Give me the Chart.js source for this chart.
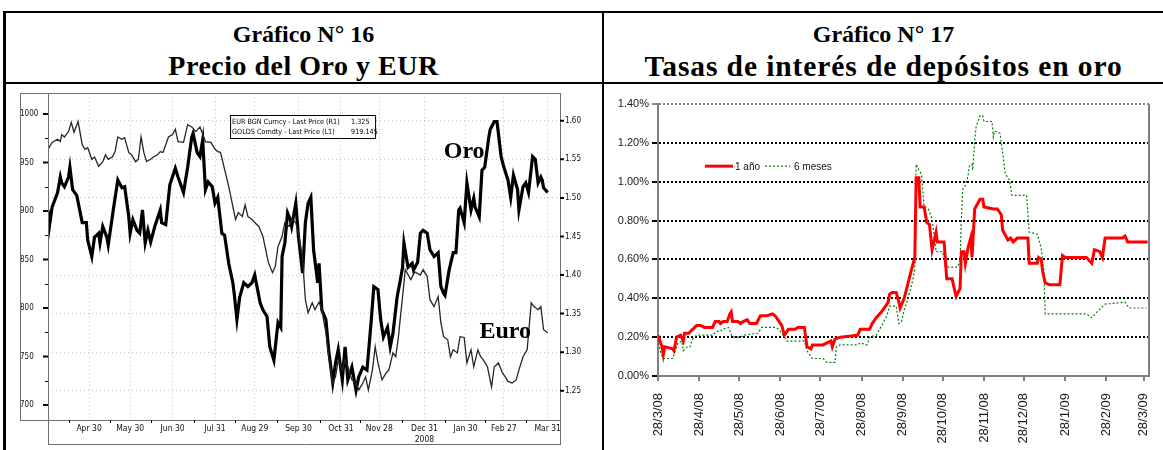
<!DOCTYPE html>
<html>
<head>
<meta charset="utf-8">
<script src="https://cdn.jsdelivr.net/npm/chart.js@4.4.0/dist/chart.umd.min.js"></script>
<style>
  body { margin: 0; background: #fff; width: 1163px; height: 450px; overflow: hidden; position: relative; }
  .ln { position: absolute; background: #000; }
  .title { position: absolute; text-align: center; font-family: "Liberation Serif", "Times New Roman", serif;
           font-weight: bold; color: #000; white-space: nowrap; }
  .t1 { top: 18px; font-size: 24px; line-height: 32px; }
  .t2 { top: 50px; font-size: 28px; line-height: 32px; }
  #box16 { position: absolute; left: 8px; top: 88px; width: 592px; height: 362px; }
  #box17 { position: absolute; left: 606px; top: 88px; width: 557px; height: 362px; }
</style>
</head>
<body>
<div class="ln" style="left:3px;top:11px;width:1160px;height:2px"></div>
<div class="ln" style="left:3px;top:11px;width:3px;height:439px"></div>
<div class="ln" style="left:602px;top:11px;width:2px;height:439px"></div>
<div class="ln" style="left:3px;top:82px;width:1160px;height:2px"></div>
<div class="title t1" style="left:4px;width:599px">Gráfico N° 16</div>
<div class="title t2" style="left:4px;width:599px;letter-spacing:0.5px">Precio del Oro y EUR</div>
<div class="title t1" style="left:604px;width:559px">Gráfico N° 17</div>
<div class="title t2" style="left:604px;width:559px;font-size:29.5px;letter-spacing:0.9px">Tasas de interés de depósitos en oro</div>
<div id="box16"><canvas id="c16"></canvas></div>
<div id="box17"><canvas id="c17"></canvas></div>

<script>
// ---- Gráfico 16: gold (left axis) and EUR (right axis), days after 31 Mar 2008
const goldDays = [0,1,3,7,9,10,12,15,16,18, 21,25,28,29,32,34,37,38,40,43, 44,48,51,54,56,59,60,62,65,67,
  69,71,73,75,78,82,83,86,89,93, 95,99,102,105,106,109,111,113,115,117, 120,122,124,127,129,132,135,136,138,140,
  143,146,149,151,155,157,160,162,165,168, 170,171,173,175,177,178,181,183,186,188, 190,192,194,197,198,200,203,205,208,210,
  212,215,217,219,222,225,227,230,233,236, 238,241,243,245,248,250,252,255,257,259, 260,263,266,267,270,272,274,277,279,282,
  285,287,289,290,293,296,298,300,301,304, 306,309,311,312,315,317,319,322,323,326, 328,331,333,336,338,340,343,344,347,349,
  351,354,356,358,360,361,362,365];
const goldPrice = [901,884,904,919,935,929,925,935,945,922, 916,888,888,870,853,873,877,867,884,873, 865,904,932,924,925,894,877,891,880,877,
  901,867,880,868,884,901,888,886,927,944, 935,919,945,976,980,960,956,973,922,930, 925,908,914,877,875,846,826,815,788,811,
  826,822,826,834,805,798,791,760,746,785, 780,853,867,898,891,884,908,873,836,888, 908,914,860,826,846,798,788,757,723,743,
  757,726,760,726,739,715,729,739,736,785, 822,819,788,770,780,760,774,811,826,842, 867,842,846,839,847,877,880,877,860,853,
  857,822,815,813,839,857,857,901,903,888, 929,901,913,904,894,942,945,976,984,992, 992,956,945,932,914,937,922,901,925,929,
  919,956,953,929,935,932,924,919];

const eurDays = [0,3,7,9,10,12,15,17,19,22, 25,27,29,32,34,37,40,42,44,47, 49,51,54,56,59,61,64,66,68,70,
  72,75,77,80,82,84,88,91,93,95, 99,102,105,108,111,115,119,122,124,126, 129,132,135,137,139,142,144,146,149,151,
  154,157,159,161,164,166,168,171,173,176, 178,181,183,186,188,190,193,195,198,200, 203,205,208,210,212,215,217,219,222,225,
  227,230,232,234,237,239,241,244,247,249, 252,254,256,257,259,261,265,268,272,274, 277,279,282,285,287,289,292,294,296,299,
  301,304,306,309,311,314,316,318,321,324, 326,329,332,334,336,339,342,344,347,350, 353,355,358,360,362,365];
const eurRate = [1.563,1.572,1.576,1.573,1.582,1.579,1.586,1.598,1.585,1.599, 1.569,1.563,1.565,1.550,1.553,1.541,1.547,1.556,1.550,1.553,
  1.560,1.579,1.576,1.578,1.559,1.556,1.547,1.550,1.579,1.559, 1.547,1.550,1.553,1.556,1.560,1.559,1.579,1.582,1.589,1.573,
  1.572,1.595,1.592,1.586,1.592,1.573,1.572,1.563,1.560,1.559, 1.537,1.515,1.489,1.472,1.481,1.476,1.491,1.476,1.472,1.468,
  1.463,1.450,1.433,1.416,1.403,1.411,1.437,1.450,1.468,1.463, 1.472,1.468,1.455,1.420,1.368,1.351,1.364,1.355,1.365,1.355,
  1.325,1.294,1.260,1.268,1.290,1.277,1.290,1.281,1.264,1.260, 1.251,1.260,1.268,1.251,1.277,1.307,1.286,1.264,1.273,1.277,
  1.299,1.294,1.320,1.338,1.372,1.407,1.394,1.404,1.400,1.407, 1.398,1.368,1.359,1.372,1.338,1.320,1.316,1.294,1.303,1.299,
  1.320,1.319,1.286,1.303,1.281,1.303,1.294,1.290,1.281,1.255, 1.281,1.286,1.273,1.268,1.262,1.260,1.264,1.277,1.294,1.303,
  1.364,1.359,1.355,1.359,1.329,1.325];

const goldAxisDates = ['2008-04-30','2008-05-30','2008-06-30','2008-07-31','2008-08-29','2008-09-30',
  '2008-10-31','2008-11-28','2008-12-31','2009-01-30','2009-02-27','2009-03-31'];
const goldAxisLabels = ['Apr 30','May 30','Jun 30','Jul 31','Aug 29','Sep 30','Oct 31','Nov 28','Dec 31','Jan 30','Feb 27','Mar 31'];
const goldAxisTicks = [700, 750, 800, 850, 900, 950, 1000];
const eurAxisTicks = [1.25, 1.30, 1.35, 1.40, 1.45, 1.50, 1.55, 1.60];
const legendRows = [['EUR BGN Curncy - Last Price (R1)', '1.325'], ['GOLDS Comdty - Last Price (L1)', '919.145']];

// ---- Gráfico 17: gold deposit rates (%), days after 28/3/08
const rateAxisLabels = ['28/3/08','28/4/08','28/5/08','28/6/08','28/7/08','28/8/08','28/9/08',
  '28/10/08','28/11/08','28/12/08','28/1/09','28/2/09','28/3/09'];
const oneYearDays = [0,3,4,5,11,12,14,17,19,20, 23,26,29,32,35,41,43,46,47,49, 52,54,55,56,60,62,64,67,69,71,
  74,77,82,86,88,90,93,95,98,103, 105,110,112,115,116,124,127,130,131,133, 137,150,152,159,161,164,168,171,173,174,
  176,179,181,182,185,188,191,193,194,196, 197,200,202,204,206,209,210,215,217,221, 224,227,228,230,231,233,235,236,238,242,
  244,245,252,255,258,259,263,265,267,270, 278,279,285,286,288,289,291,294,302,304, 306,309,322,326,328,332,334,336,349,351,
  353,368];
const oneYearRate = [0.21,0.15,0.11,0.15,0.14,0.13,0.20,0.21,0.18,0.22, 0.22,0.24,0.26,0.26,0.25,0.25,0.28,0.28,0.27,0.28,
  0.28,0.32,0.33,0.28,0.28,0.27,0.28,0.29,0.27,0.27, 0.27,0.31,0.31,0.32,0.31,0.29,0.26,0.21,0.24,0.24,
  0.25,0.25,0.15,0.14,0.16,0.16,0.17,0.18,0.15,0.19, 0.20,0.21,0.24,0.24,0.27,0.30,0.33,0.36,0.38,0.42,
  0.43,0.43,0.38,0.35,0.40,0.48,0.56,0.61,1.02,1.02, 0.87,0.87,0.79,0.78,0.65,0.74,0.69,0.69,0.50,0.50,
  0.41,0.45,0.64,0.64,0.58,0.66,0.71,0.61,0.86,0.91, 0.91,0.87,0.86,0.86,0.83,0.75,0.70,0.71,0.69,0.71,
  0.71,0.58,0.58,0.61,0.60,0.54,0.48,0.47,0.47,0.62, 0.61,0.61,0.61,0.58,0.65,0.64,0.61,0.71,0.71,0.72,
  0.69,0.69];
const sixMonthDays = [0,2,4,11,13,15,18,19,22,24, 26,29,41,44,47,48,53,56,62,64, 75,78,89,92,97,101,110,112,116,124,
  127,133,134,137,150,152,157,159,164,169, 172,174,179,181,183,185,187,191,193,194, 196,198,200,203,206,209,214,216,225,227,
  228,229,231,233,234,236,236.5,238,239,242, 244,245,251,252,253,257,259,261,264,266, 277,279,285,288,289,290,291,322,326,330,
  336,351,354,367];
const sixMonthRate = [0.19,0.12,0.09,0.09,0.13,0.17,0.18,0.13,0.15,0.15, 0.19,0.21,0.21,0.23,0.23,0.24,0.25,0.20,0.20,0.21,
  0.22,0.25,0.25,0.23,0.18,0.18,0.18,0.13,0.09,0.09, 0.07,0.07,0.15,0.16,0.16,0.17,0.16,0.20,0.21,0.27,
  0.31,0.36,0.36,0.27,0.28,0.34,0.38,0.48,0.55,1.09, 1.06,1.04,0.87,0.86,0.81,0.64,0.64,0.56,0.56,0.59,
  0.81,0.96,0.98,1.03,1.08,1.09,1.06,1.21,1.28,1.34, 1.34,1.31,1.31,1.23,1.26,1.25,1.15,1.04,1.01,0.93,
  0.93,0.74,0.73,0.66,0.59,0.55,0.32,0.32,0.30,0.33, 0.37,0.38,0.35,0.35];

const NARROW = '"Liberation Sans Narrow","Arial Narrow","DejaVu Sans Condensed",sans-serif';
const SANS = '"Liberation Sans",Arial,sans-serif';

function dayOffset(y, m, d, base) {
  return (Date.UTC(y, m - 1, d) - base) / 864e5;
}
const goldBase = Date.UTC(2008, 2, 31);
const goldAxisDays = goldAxisDates.map(s => {
  const [y, m, d] = s.split('-').map(Number);
  return dayOffset(y, m, d, goldBase);
});
const rateBase = Date.UTC(2008, 2, 28);
const rateAxisDays = rateAxisLabels.map(s => {
  const [d, m, y] = s.split('/').map(Number);
  return dayOffset(2000 + y, m, d, rateBase);
});

const pts = (xs, ys) => xs.map((x, i) => ({ x: x, y: ys[i] }));

// keep the plot box where it is, tick labels may stick out
function fixSize(w, h) {
  return s => {
    if (w != null) s.width = w;
    if (h != null) s.height = h;
    s.paddingTop = s.paddingBottom = s.paddingLeft = s.paddingRight = 0;
  };
}

// frame, tick marks, legend box and the two series names
const bloombergDecor = {
  id: 'bloombergDecor',
  afterDraw(chart) {
    const { ctx, chartArea: a, scales } = chart;
    const yl = scales.yGold, yr = scales.yEur, x = scales.x;
    const bottom = x.bottom;
    ctx.save();
    ctx.strokeStyle = '#6f6f6f';
    ctx.lineWidth = 1;
    ctx.beginPath();
    ctx.moveTo(yl.left + 0.5, a.top + 0.5); ctx.lineTo(a.right + 0.5, a.top + 0.5);
    ctx.moveTo(yl.left + 0.5, a.top); ctx.lineTo(yl.left + 0.5, a.bottom + 0.5);
    ctx.moveTo(yl.left, a.bottom + 0.5); ctx.lineTo(a.right, a.bottom + 0.5);
    ctx.moveTo(a.left + 0.5, a.top); ctx.lineTo(a.left + 0.5, bottom);
    ctx.moveTo(a.left, bottom - 0.5); ctx.lineTo(a.right + 1, bottom - 0.5);
    ctx.moveTo(a.right + 0.5, a.top); ctx.lineTo(a.right + 0.5, bottom);
    ctx.stroke();

    // tick marks
    ctx.strokeStyle = '#000';
    ctx.lineWidth = 2;
    ctx.beginPath();
    yl.ticks.forEach(t => { const p = yl.getPixelForValue(t.value); ctx.moveTo(a.left - 5, p); ctx.lineTo(a.left, p); });
    yr.ticks.forEach(t => { const p = yr.getPixelForValue(t.value); ctx.moveTo(a.right, p); ctx.lineTo(a.right + 4, p); });
    ctx.stroke();
    ctx.lineWidth = 1;
    ctx.beginPath();
    for (let i = 0; i < goldAxisTicks.length - 1; i++) {
      const p = Math.round(yl.getPixelForValue((goldAxisTicks[i] + goldAxisTicks[i + 1]) / 2)) + 0.5;
      ctx.moveTo(a.left - 3, p); ctx.lineTo(a.left, p);
    }
    const xs = [0].concat(goldAxisDays);
    for (let i = 0; i < xs.length - 1; i++) {
      const p = Math.round(x.getPixelForValue((xs[i] + xs[i + 1]) / 2)) + 0.5;
      ctx.moveTo(p, a.bottom); ctx.lineTo(p, a.bottom + 3);
    }
    ctx.stroke();

    // legend box
    const lx = x.getPixelForValue(133), ly = a.top + 22;
    ctx.fillStyle = '#fff';
    ctx.fillRect(lx, ly, 145, 23);
    ctx.strokeStyle = '#000';
    ctx.lineWidth = 1;
    ctx.strokeRect(lx + 0.5, ly + 0.5, 145, 23);
    ctx.fillStyle = '#000';
    ctx.font = '7.2px ' + NARROW;
    ctx.textBaseline = 'middle';
    ctx.textAlign = 'left';
    legendRows.forEach((r, i) => {
      ctx.fillText(r[0], lx + 2, ly + 7 + i * 10);
      ctx.fillText(r[1], lx + 121, ly + 7 + i * 10);
    });

    // series names
    ctx.font = 'bold 24px "Liberation Serif","Times New Roman",serif';
    ctx.textAlign = 'center';
    ctx.fillText('Oro', x.getPixelForValue(304), yl.getPixelForValue(961));
    ctx.fillText('Euro', x.getPixelForValue(334), yr.getPixelForValue(1.327));
    ctx.restore();
  }
};

new Chart(document.getElementById('c16'), {
  type: 'line',
  data: {
    datasets: [
      { label: 'EUR BGN Curncy - Last Price (R1)', data: pts(eurDays, eurRate), yAxisID: 'yEur',
        borderColor: '#262626', borderWidth: 1.3, pointRadius: 0, tension: 0 },
      { label: 'GOLDS Comdty - Last Price (L1)', data: pts(goldDays, goldPrice), yAxisID: 'yGold',
        borderColor: '#000', borderWidth: 3.2, pointRadius: 0, tension: 0 }
    ]
  },
  options: {
    responsive: true,
    maintainAspectRatio: false,
    animation: false,
    layout: { padding: { left: 12, top: 5, right: 0, bottom: 5 } },
    plugins: { legend: { display: false }, tooltip: { enabled: false } },
    scales: {
      x: {
        type: 'linear', min: 0, max: 374,
        afterBuildTicks: s => { s.ticks = goldAxisDays.map(v => ({ value: v })); },
        afterFit: fixSize(null, 25),
        ticks: {
          autoSkip: false, maxRotation: 0, padding: 4, color: '#111',
          font: { family: NARROW, size: 8.5 }, lineHeight: 1.1,
          callback: (v, i) => i === 8 ? [goldAxisLabels[i], '2008'] : goldAxisLabels[i]
        },
        grid: { color: '#c4c4c4', lineWidth: 1, drawTicks: false },
        border: { display: false, dash: [1, 3] }
      },
      yGold: {
        position: 'left', min: 684.5, max: 1021.6,
        afterBuildTicks: s => { s.ticks = goldAxisTicks.map(v => ({ value: v })); },
        afterFit: fixSize(28, null),
        ticks: { crossAlign: 'far', padding: 0, color: '#111', font: { family: NARROW, size: 8 },
                 callback: v => String(v) },
        grid: { drawOnChartArea: false, drawTicks: false },
        border: { display: false }
      },
      yEur: {
        position: 'right', min: 1.212, max: 1.636,
        afterBuildTicks: s => { s.ticks = eurAxisTicks.map(v => ({ value: v })); },
        afterFit: fixSize(40, null),
        ticks: { padding: 5, color: '#111', font: { family: NARROW, size: 8 }, callback: v => v.toFixed(2) },
        grid: { color: '#c4c4c4', lineWidth: 1, drawTicks: false },
        border: { display: false, dash: [1, 3] }
      }
    }
  },
  plugins: [bloombergDecor]
});

// legend inside plot + right border
const rateDecor = {
  id: 'rateDecor',
  afterDraw(chart) {
    const { ctx, chartArea: a, scales: { y } } = chart;
    const ds = chart.data.datasets;
    ctx.save();
    ctx.strokeStyle = '#808080';
    ctx.lineWidth = 2;
    ctx.beginPath();
    ctx.moveTo(a.right, a.top); ctx.lineTo(a.right, a.bottom);
    ctx.stroke();

    const ly = y.getPixelForValue(1.08);
    let lx = a.left + 47;
    ctx.font = '10px ' + SANS;
    ctx.textBaseline = 'middle';
    ctx.textAlign = 'left';
    ctx.strokeStyle = ds[0].borderColor;
    ctx.lineWidth = 3;
    ctx.beginPath(); ctx.moveTo(lx, ly); ctx.lineTo(lx + 28, ly); ctx.stroke();
    ctx.fillStyle = '#111';
    ctx.fillText(ds[0].label, lx + 30, ly + 1);
    lx += 60;
    ctx.strokeStyle = ds[1].borderColor;
    ctx.lineWidth = 1.2;
    ctx.setLineDash([2, 2]);
    ctx.beginPath(); ctx.moveTo(lx, ly); ctx.lineTo(lx + 25, ly); ctx.stroke();
    ctx.setLineDash([]);
    ctx.fillText(ds[1].label, lx + 29, ly + 1);
    ctx.restore();
  }
};

new Chart(document.getElementById('c17'), {
  type: 'line',
  data: {
    datasets: [
      { label: '1 año', data: pts(oneYearDays, oneYearRate), borderColor: '#ff0000', borderWidth: 3,
        pointRadius: 0, tension: 0 },
      { label: '6 meses', data: pts(sixMonthDays, sixMonthRate), borderColor: '#008000', borderWidth: 1.2,
        borderDash: [2, 2], pointRadius: 0, tension: 0 }
    ]
  },
  options: {
    responsive: true,
    maintainAspectRatio: false,
    animation: false,
    layout: { padding: { left: 0, top: 16, right: 14, bottom: 4 } },
    plugins: { legend: { display: false }, tooltip: { enabled: false } },
    scales: {
      x: {
        type: 'linear', min: 0, max: 369,
        afterBuildTicks: s => { s.ticks = rateAxisDays.map(v => ({ value: v })); },
        afterFit: fixSize(null, 70),
        ticks: {
          autoSkip: false, minRotation: 90, maxRotation: 90, padding: 12, color: '#1a1a1a',
          font: { family: SANS, size: 13 },
          callback: (v, i) => rateAxisLabels[i]
        },
        grid: { drawOnChartArea: false, drawTicks: true, tickLength: 5, color: '#808080', lineWidth: 2 },
        border: { display: true, color: '#808080', width: 2 }
      },
      y: {
        min: 0, max: 1.4,
        afterFit: fixSize(52, null),
        ticks: { stepSize: 0.2, padding: 3, color: '#1a1a1a', font: { family: SANS, size: 11 },
                 callback: v => v.toFixed(2) + '%' },
        grid: { color: ctx => ctx.tick && ctx.tick.value > 1.39 ? '#888' : '#000', lineWidth: 2, tickLength: 6 },
        border: { display: true, color: '#808080', width: 2, dash: [2, 2] }
      }
    }
  },
  plugins: [rateDecor]
});
</script>
</body>
</html>
